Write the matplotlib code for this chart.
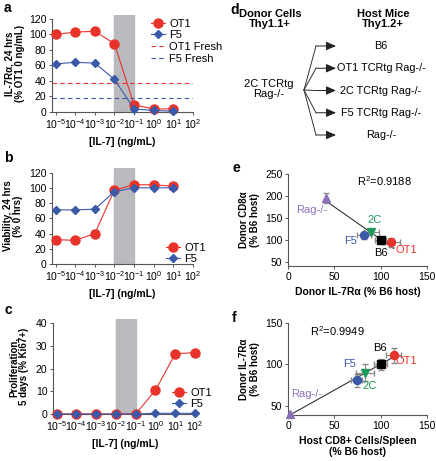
import numpy as np
import matplotlib
matplotlib.use("Agg")
from matplotlib import pyplot as plt
from matplotlib.lines import Line2D

plt.rcParams["font.family"] = ["Liberation Sans", "DejaVu Sans"]
plt.rcParams["font.size"] = 7.5
plt.rcParams["mathtext.fontset"] = "custom"
plt.rcParams["mathtext.rm"] = "Liberation Sans"

RED = "#e8332a"
BLUE = "#3a59a8"
PURPLE = "#8c70b9"
GREEN = "#1f9a5a"
GRAY = "#b9babd"

# panels a-c: IL-7 dose response
conc = [1e-5, 1e-4, 1e-3, 1e-2, 1e-1, 1e0, 1e1]
a_ot1 = [100, 103, 104, 88, 9, 4, 4]
a_ot1_err = [0, 2, 3, 0, 2, 0, 0]
a_f5 = [62, 64, 63, 42, 4, 2, 1]
a_ot1_fresh = 37
a_f5_fresh = 18

b_ot1 = [32, 31, 40, 97, 104, 104, 102]
b_ot1_err = [0, 0, 4, 0, 0, 0, 0]
b_f5 = [71, 71, 72, 95, 100, 100, 100]

conc_c = [1e-5, 1e-4, 1e-3, 1e-2, 1e-1, 1e0, 1e1, 1e2]
c_ot1 = [0, 0, 0, 0, 0, 10.5, 26.5, 27]
c_ot1_err = [0, 0, 1.5, 0, 0, 0, 0, 0]
c_f5 = [0, 0, 0, 0, 0, 0.3, 0.3, 0.3]

# panel d
donor = "2C TCRtg\nRag-/-"
hosts = ["B6", "OT1 TCRtg Rag-/-", "2C TCRtg Rag-/-", "F5 TCRtg Rag-/-", "Rag-/-"]

# panels e, f: adoptive transfer
groups = ["Rag-/-", "2C", "F5", "B6", "OT1"]
e_x = [41, 90, 82, 100, 111]
e_xerr = [0, 8, 8, 6, 10]
e_y = [195, 118, 110, 100, 94]
e_yerr = [12, 6, 8, 6, 10]
e_r2 = 0.9188
f_x = [2, 83, 74, 100, 114]
f_xerr = [0, 10, 6, 7, 8]
f_y = [40, 90, 81, 100, 111]
f_yerr = [0, 10, 8, 7, 9]
f_r2 = 0.9949

W, H = 436, 461
fig = plt.figure(figsize=(W / 100, H / 100), dpi=100)


def ax_px(l, t, r, b):
    return fig.add_axes([l / W, 1 - b / H, (r - l) / W, (b - t) / H])


def style(ax):
    for s in ["top", "right"]:
        ax.spines[s].set_visible(False)
    for s in ["left", "bottom"]:
        ax.spines[s].set_linewidth(0.8)
        ax.spines[s].set_color("#555555")
    ax.tick_params(length=2.5, width=0.7, pad=1.5, color="#555555")


def dose_axes(ax, xmax, ymax, ytop, ystep):
    style(ax)
    ax.set_xscale("log")
    ax.set_xlim(10 ** -5.18, xmax)
    ax.set_ylim(0, ytop)
    ax.axvspan(1e-2, 1e-1, color=GRAY, zorder=0)
    ax.set_xticks([10.0 ** k for k in range(-5, 3)])
    ax.set_xticklabels([r"$10^{%d}$" % k for k in range(-5, 3)])
    ax.xaxis.set_minor_locator(matplotlib.ticker.NullLocator())
    ax.set_yticks(np.arange(0, ymax + 1, ystep))
    ax.spines["left"].set_bounds(0, ymax)
    ax.set_xlabel("[IL-7] (ng/mL)", fontweight="bold", labelpad=4)


def series(ax, x, y, err=None, color=RED, marker="o", ms=6.5):
    ax.errorbar(x, y, yerr=err, color=color, marker=marker, ms=ms, lw=0.8,
                ecolor="#d07070", elinewidth=0.8, capsize=2,
                clip_on=False, zorder=3)


def dose_legend(ax, x, y, fresh=False):
    handles = [Line2D([], [], color=RED, marker="o", ms=6.5, lw=0.8),
               Line2D([], [], color=BLUE, marker="D", ms=3.8, lw=0.8)]
    labels = ["OT1", "F5"]
    if fresh:
        handles += [Line2D([], [], color=RED, ls=(0, (4, 3)), lw=0.8),
                    Line2D([], [], color=BLUE, ls=(0, (4, 3)), lw=0.8)]
        labels += ["OT1 Fresh", "F5 Fresh"]
    ax.legend(handles, labels, loc="upper left", bbox_to_anchor=(x / W, 1 - y / H),
              bbox_transform=fig.transFigure, frameon=False, fontsize=8,
              handlelength=1.3, handletextpad=0.4, labelspacing=0.15, borderpad=0)


def ylab(ax, text, pad=3):
    ax.set_ylabel(text, fontweight="bold", fontsize=7, labelpad=pad, linespacing=1.05)


# ---- a
ax = ax_px(52, 15, 193, 112)
dose_axes(ax, 10 ** 2.0, 120, 125, 20)
series(ax, conc, a_ot1, a_ot1_err, RED, "o", 6.5)
series(ax, conc, a_f5, None, BLUE, "D", 3.8)
ax.axhline(a_ot1_fresh, color=RED, ls=(0, (4, 3)), lw=0.8)
ax.axhline(a_f5_fresh, color=BLUE, ls=(0, (4, 3)), lw=0.8)
ylab(ax, "IL-7R\u03b1, 24 hrs\n(% OT1 0 ng/mL)", pad=3)
dose_legend(ax, 145, 13, fresh=True)

# ---- b
ax = ax_px(52, 168, 193, 264)
dose_axes(ax, 10 ** 2.0, 120, 126, 20)
series(ax, conc, b_ot1, b_ot1_err, RED, "o", 6.5)
series(ax, conc, b_f5, None, BLUE, "D", 3.8)
ylab(ax, "Viability, 24 hrs\n(% 0 hrs)", pad=4)
dose_legend(ax, 160, 237)

# ---- c
ax = ax_px(53, 319, 197, 414)
dose_axes(ax, 10 ** 2.1, 40, 41.8, 10)
series(ax, conc_c, c_ot1, c_ot1_err, RED, "o", 6.5)
series(ax, conc_c, c_f5, None, BLUE, "D", 3.8)
ylab(ax, "Proliferation,\n5 days (% Ki67+)", pad=5)
dose_legend(ax, 166, 382)

# ---- d
fig.text(270 / W, 1 - 19 / H, "Donor Cells\nThy1.1+", ha="center", va="center",
         fontweight="bold", fontsize=8, linespacing=1.1)
fig.text(383 / W, 1 - 19 / H, "Host Mice\nThy1.2+", ha="center", va="center",
         fontweight="bold", fontsize=8, linespacing=1.1)
fig.text(269 / W, 1 - 89 / H, donor, ha="center", va="center", fontsize=8,
         linespacing=1.1)
ox, oy = 304, 90
ys = np.linspace(46, 135, len(hosts))
for yy, name in zip(ys, hosts):
    fig.add_artist(Line2D([ox / W, 316 / W], [1 - oy / H, 1 - yy / H],
                          color="#333333", lw=0.7, transform=fig.transFigure))
    fig.add_artist(matplotlib.patches.FancyArrowPatch(
        (316 / W, 1 - yy / H), (336 / W, 1 - yy / H), transform=fig.transFigure,
        arrowstyle="-|>,head_length=6,head_width=2.6", color="#222222", lw=0.7,
        shrinkA=0, shrinkB=0))
    fig.text(381 / W, 1 - yy / H, name, ha="center", va="center", fontsize=7.8)


# ---- e, f
colors = [PURPLE, GREEN, BLUE, "black", RED]
markers = ["^", "v", "o", "s", "o"]


def scatter_panel(ax, x, xerr, y, yerr, r2, r2pos, lab_pos):
    style(ax)
    fit = np.polyfit(x, y, 1)
    xx = np.array([min(x), max(x) + 3])
    ax.plot(xx, np.polyval(fit, xx), color="#333333", lw=0.8, zorder=2)
    for i in range(len(x)):
        ax.errorbar(x[i], y[i], xerr=xerr[i] or None, yerr=yerr[i] or None,
                    fmt=markers[i], color=colors[i], ms=5.8, ecolor="#888888",
                    elinewidth=0.8, capsize=2.5, clip_on=False, zorder=3)
        ax.text(lab_pos[i][0], lab_pos[i][1], groups[i], color=colors[i],
                ha="center", va="center", fontsize=8)
    ax.text(r2pos[0], r2pos[1], "R$^2$=%.4f" % r2, ha="center", va="center",
            fontsize=8)
    ax.set_xlim(0, 150)
    ax.set_xticks([0, 50, 100, 150])


ax = ax_px(288, 174, 427, 266)
scatter_panel(ax, e_x, e_xerr, e_y, e_yerr, e_r2, (104, 234),
              [(26, 168), (93, 145), (68, 97), (100, 70), (128, 77)])
ax.set_ylim(40, 250)
ax.set_yticks([50, 100, 150, 200, 250])
ax.spines["left"].set_bounds(40, 250)
ax.set_xlabel("Donor IL-7R\u03b1 (% B6 host)", fontweight="bold", labelpad=4)
ylab(ax, "Donor CD8\u03b1\n(% B6 host)", pad=4)

ax = ax_px(288, 323, 427, 415)
scatter_panel(ax, f_x, f_xerr, f_y, f_yerr, f_r2, (53, 140),
              [(20, 64), (88, 74), (66, 101), (99, 120), (128, 104)])
ax.set_ylim(39, 150)
ax.set_yticks([50, 100, 150])
ax.set_xlabel("Host CD8+ Cells/Spleen\n(% B6 host)", fontweight="bold", labelpad=4,
              linespacing=1.1)
ylab(ax, "Donor IL-7R\u03b1\n(% B6 host)", pad=4)

# panel letters
for s, (px, py) in zip("abcdef", [(4, 8), (4, 158), (4, 310), (230, 10),
                                   (232, 168), (232, 318)]):
    fig.text(px / W, 1 - py / H, s, fontweight="bold", fontsize=10,
             ha="left", va="center")

fig.savefig("out.png", dpi=100)
